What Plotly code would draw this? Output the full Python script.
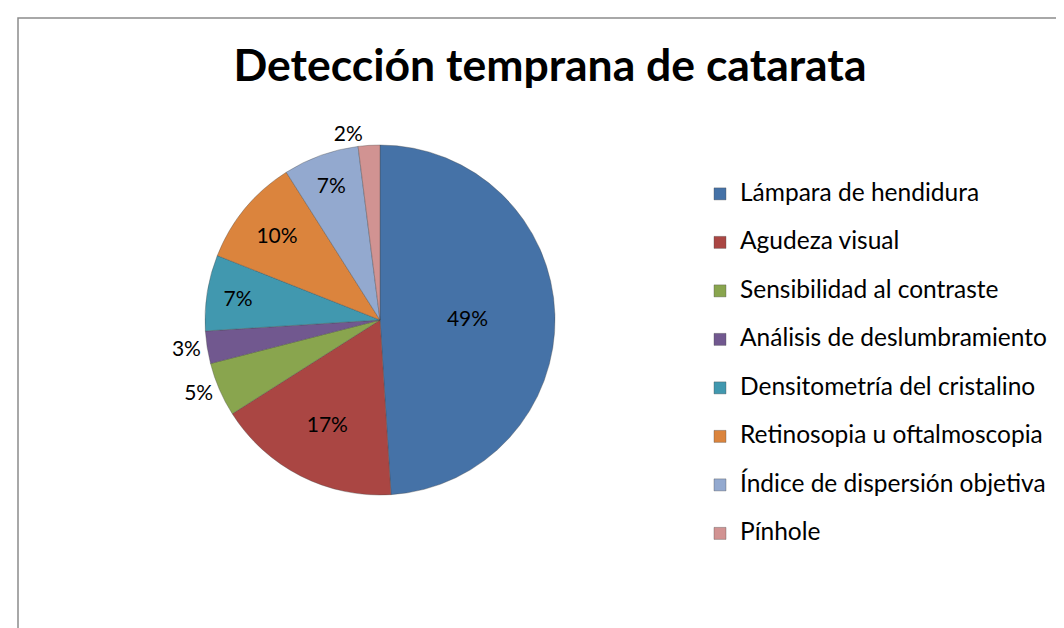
import plotly.graph_objects as go

categories = [
    "Lámpara de hendidura",
    "Agudeza visual",
    "Sensibilidad al contraste",
    "Análisis de deslumbramiento",
    "Densitometría del cristalino",
    "Retinosopia u oftalmoscopia",
    "Índice de dispersión objetiva",
    "Pínhole",
]
values = [49, 17, 5, 3, 7, 10, 7, 2]
colors = ["#4572A7", "#AA4643", "#89A54E", "#71588F", "#4198AF", "#DB843D", "#93A9CF", "#D19392"]
text_positions = ["inside", "inside", "outside", "outside", "inside", "inside", "inside", "outside"]
title_text = "Detección temprana de catarata"

W, H = 1064, 628
cx, cy, r = 372, 312, 175

legend_labels = [f"<span style='font-size:24.5px'>{c}</span><br> " for c in categories]

fig = go.Figure(
    go.Pie(
        labels=legend_labels,
        values=values,
        sort=False,
        direction="clockwise",
        rotation=0,
        marker=dict(colors=colors, line=dict(color="rgba(70,70,70,0.5)", width=0.7)),
        textinfo="percent",
        texttemplate="%{percent:.0%}",
        textposition=text_positions,
        textfont=dict(family="Lato", size=21, color="black"),
        insidetextorientation="horizontal",
        domain=dict(x=[(cx - r) / W, (cx + r) / W], y=[(H - cy - r) / H, (H - cy + r) / H]),
        showlegend=True,
    )
)

fig.update_layout(
    width=W,
    height=H,
    margin=dict(l=0, r=0, t=0, b=0),
    paper_bgcolor="white",
    plot_bgcolor="white",
    title=dict(
        text=f"<b>{title_text}</b>",
        font=dict(family="Lato", size=44.5, color="black"),
        x=542 / W,
        xanchor="center",
        y=1 - 57 / H,
        yanchor="middle",
        yref="container",
    ),
    legend=dict(
        x=692 / W,
        xanchor="left",
        y=1 - 168 / H,
        yanchor="top",
        valign="top",
        font=dict(family="Lato", size=17.5, color="black"),
        bgcolor="rgba(0,0,0,0)",
    ),
    shapes=[
        dict(
            type="rect", xref="paper", yref="paper",
            x0=10 / W, x1=1.05, y0=-0.05, y1=1 - 10 / H,
            line=dict(color="#8c8c8c", width=1.5), fillcolor="rgba(0,0,0,0)",
        )
    ],
)

fig.write_html("out.html")
